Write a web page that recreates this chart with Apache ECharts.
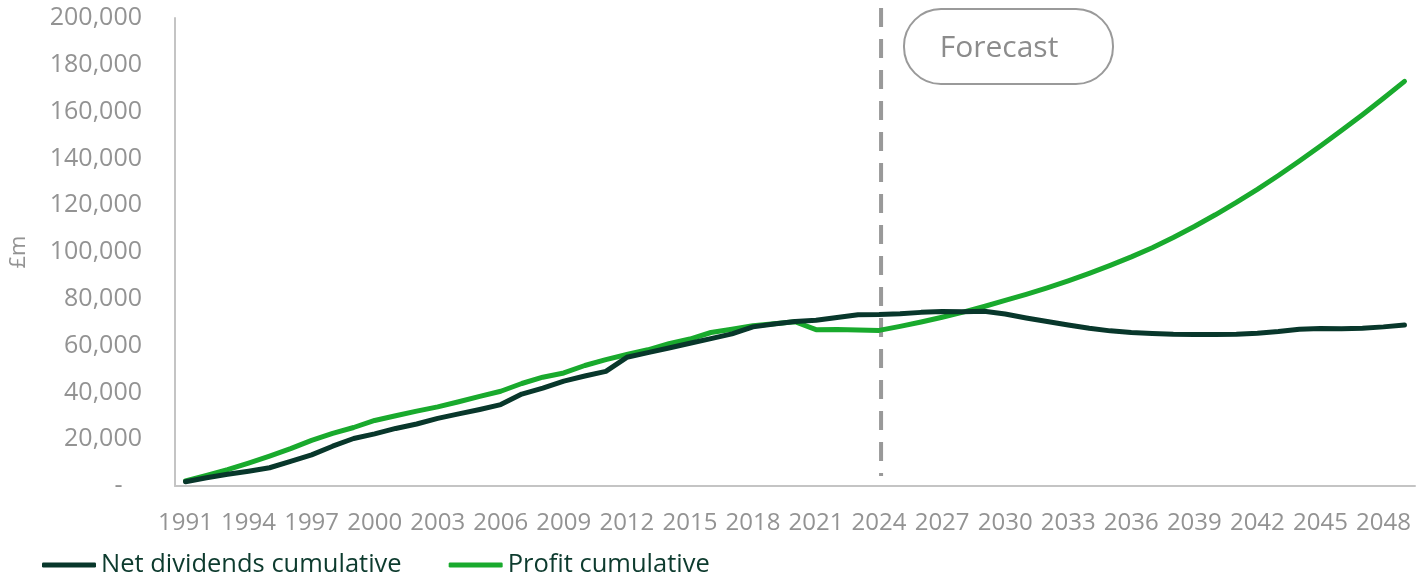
<!DOCTYPE html>
<html>
<head>
<meta charset="utf-8">
<script src="https://cdn.jsdelivr.net/npm/echarts@6/dist/echarts.min.js"></script>
<style>
    html, body { margin: 0; padding: 0; background: #fff; }
    #chart { width: 1420px; height: 578px; }
</style>
</head>
<body>
<div id="chart"></div>
<script type="text/javascript">
    // years on the x axis
    var years = ['1991','1992','1993','1994','1995','1996','1997','1998','1999','2000',
        '2001','2002','2003','2004','2005','2006','2007','2008','2009','2010',
        '2011','2012','2013','2014','2015','2016','2017','2018','2019','2020',
        '2021','2022','2023','2024','2025','2026','2027','2028','2029','2030',
        '2031','2032','2033','2034','2035','2036','2037','2038','2039','2040',
        '2041','2042','2043','2044','2045','2046','2047','2048','2049'];

    // £m
    var netDividends = [1800,3500,5000,6300,7800,10500,13300,17000,20300,22300,
        24600,26500,28900,30800,32700,34800,39300,41800,44800,47000,
        49000,55000,57000,59000,61000,63000,65000,68000,69200,70300,
        70800,72000,73200,73300,73600,74200,74600,74500,74700,73500,
        71800,70300,68800,67400,66300,65600,65200,64800,64700,64700,
        64900,65300,66000,67000,67300,67200,67400,68000,68800];

    var profit = [2200,4500,7000,9800,12800,16000,19500,22500,25000,28000,
        30000,32000,33800,36000,38300,40500,43800,46500,48300,51500,
        54000,56200,58200,60800,62800,65600,67000,68500,69300,70200,
        66800,66900,66700,66500,68200,70100,72100,74300,76700,79300,
        81900,84700,87700,90900,94300,97900,101800,106200,110900,115900,
        121200,126800,132700,138900,145300,151900,158700,165700,172900];

    var seriesNames = ['Net dividends cumulative', 'Profit cumulative'];
    var forecastStart = '2024';
    var forecastLabel = 'Forecast';

    var fontFamily = '"Open Sans", "Noto Sans", sans-serif';
    var greyText = '#939393';

    var myChart = echarts.init(document.getElementById('chart'));

    var option = {
        animation: false,
        backgroundColor: '#ffffff',
        color: ['#08372b', '#19aa2d'],
        grid: {
            left: 174,
            right: 5,
            top: 18,
            bottom: 92
        },
        legend: {
            data: seriesNames,
            left: 37,
            top: 547,
            icon: 'roundRect',
            itemWidth: 54,
            itemHeight: 5,
            itemGap: 47,
            textStyle: {
                color: '#0d3b2e',
                fontSize: 25.5,
                fontFamily: fontFamily,
                padding: [0, 0, 0, 0]
            }
        },
        xAxis: {
            type: 'category',
            data: years,
            boundaryGap: true,
            axisTick: { show: false },
            axisLine: { lineStyle: { color: '#c4c4c4', width: 2 } },
            axisLabel: {
                interval: 2,
                margin: 25,
                color: greyText,
                fontSize: 24,
                fontFamily: fontFamily
            },
            splitLine: { show: false }
        },
        yAxis: {
            type: 'value',
            min: 0,
            max: 200000,
            interval: 20000,
            name: '£m',
            nameLocation: 'middle',
            nameRotate: 90,
            nameGap: 145,
            nameTextStyle: {
                color: greyText,
                fontSize: 22,
                fontFamily: fontFamily
            },
            axisLine: { show: true, lineStyle: { color: '#c4c4c4', width: 2 } },
            axisTick: { show: false },
            splitLine: { show: false },
            axisLabel: {
                margin: 33,
                color: greyText,
                fontSize: 25,
                fontFamily: fontFamily,
                formatter: function (v) {
                    if (v === 0) return '-   ';
                    return v.toLocaleString('en-GB');
                }
            }
        },
        series: [
            {
                name: seriesNames[0],
                type: 'line',
                data: netDividends,
                symbol: 'none',
                lineStyle: { width: 5, cap: 'round', join: 'round' },
                z: 3
            },
            {
                name: seriesNames[1],
                type: 'line',
                data: profit,
                symbol: 'none',
                lineStyle: { width: 5, cap: 'round', join: 'round' },
                z: 2
            }
        ]
    };

    myChart.setOption(option);

    // dashed forecast divider and the label box
    var xLine = myChart.convertToPixel({ xAxisIndex: 0 }, forecastStart) + 2;
    myChart.setOption({
        graphic: [
            {
                type: 'line',
                shape: { x1: xLine, y1: 8, x2: xLine, y2: 476 },
                style: { stroke: '#999999', lineWidth: 4, lineDash: [19, 12] },
                z: 1
            },
            {
                type: 'rect',
                shape: { x: 904, y: 9, width: 209, height: 75, r: 37 },
                style: { fill: '#ffffff', stroke: '#9a9a9a', lineWidth: 2 },
                z: 5
            },
            {
                type: 'text',
                x: 999,
                y: 48,
                style: {
                    text: forecastLabel,
                    fill: '#8c8c8c',
                    font: '30px ' + fontFamily,
                    align: 'center',
                    verticalAlign: 'middle'
                },
                z: 6
            }
        ]
    });
</script>
</body>
</html>
